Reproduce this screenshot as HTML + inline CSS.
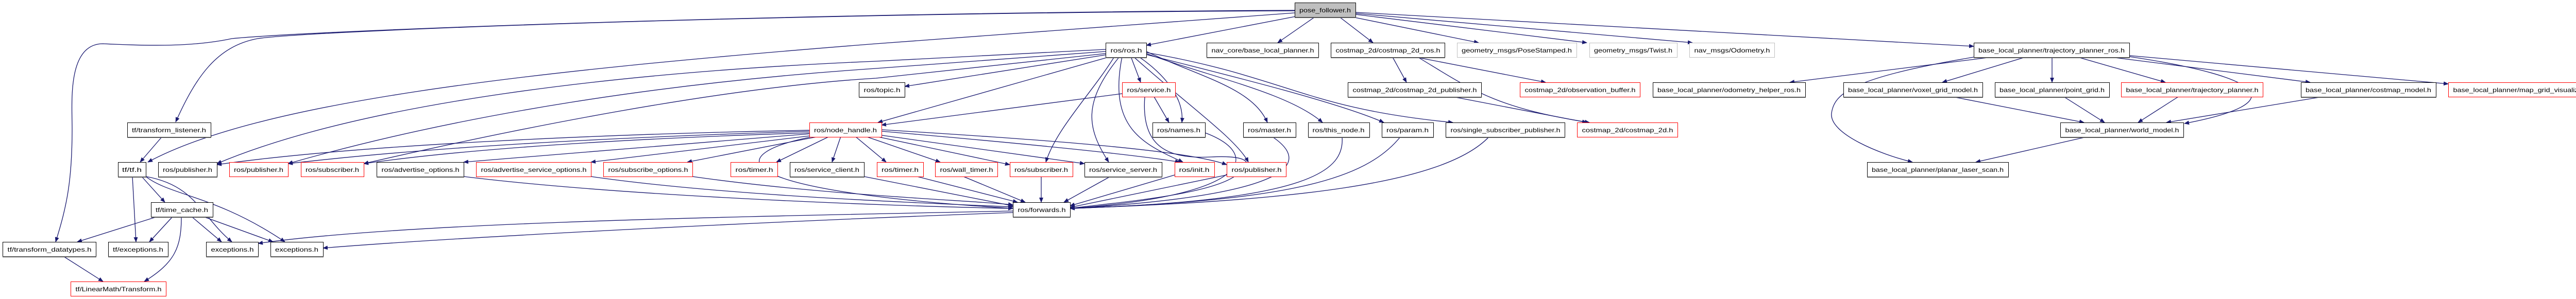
<!DOCTYPE html>
<html><head><meta charset="utf-8"><style>
html,body{margin:0;padding:0;background:#fff;}
svg{display:block;}
text{font-family:"Liberation Sans",sans-serif;font-size:12px;fill:#000;}
.e{fill:none;stroke:#191970;stroke-width:1.3;marker-end:url(#a);}
.n{fill:#fff;stroke:#000;stroke-width:1;}
.r{fill:#fff;stroke:#ff0000;stroke-width:1;}
.g{fill:#fff;stroke:#bfbfbf;stroke-width:1;}
.s{stroke:#555;stroke-width:2;}
</style></head><body>
<svg width="5043" height="581" viewBox="0 0 5043 581" xmlns="http://www.w3.org/2000/svg">
<defs><marker id="a" markerWidth="10" markerHeight="8" refX="9" refY="4" orient="auto" markerUnits="userSpaceOnUse"><path d="M0,0 L10,4 L0,8 z" fill="#191970"/></marker></defs>
<g>
<!-- pose edges -->
<path class="e" d="M2520,31 L2225,88"/>
<path class="e" d="M2552,33 L2480,83"/>
<path class="e" d="M2600,33 L2665,83"/>
<path class="e" d="M2625,33 L2870,83"/>
<path class="e" d="M2631,28 L3080,83"/>
<path class="e" d="M2631,26 L3285,83"/>
<path class="e" d="M2631,24 L3831,90"/>
<path class="e" d="M2513,25 L1700,85 C1000,140 500,200 287,315"/>
<path class="e" d="M2513,21 C1500,25 600,60 500,75 C420,90 380,150 341,237"/>
<path class="e" d="M2513,20 C1500,25 600,60 450,75 C380,90 300,90 200,85 C130,85 140,200 140,250 C140,350 130,400 108,470"/>
<!-- ros.h edges -->
<path class="e" d="M2146,96 L1700,119 C1200,140 700,200 421,318"/>
<path class="e" d="M2146,100 L1700,133 C1300,160 900,220 559,318"/>
<path class="e" d="M2146,104 L1700,152 C1400,170 1000,250 706,318"/>
<path class="e" d="M2150,106 L1756,168"/>
<path class="e" d="M2155,110 L1704,238"/>
<path class="e" d="M2195,110 L2214,160"/>
<path class="e" d="M2210,110 C2240,130 2300,180 2294,238"/>
<path class="e" d="M2225,100 C2330,150 2430,170 2460,238"/>
<path class="e" d="M2225,104 C2350,150 2500,180 2567,238"/>
<path class="e" d="M2225,106 C2400,150 2600,200 2686,238"/>
<path class="e" d="M2225,102 C2500,150 2530,210 2820,238"/>
<path class="e" d="M2163,110 C2120,180 2050,250 2030,315"/>
<path class="e" d="M2173,110 C2100,200 2110,250 2152,315"/>
<path class="e" d="M2178,110 C2150,250 2220,280 2296,315"/>
<path class="e" d="M2200,110 C2300,200 2400,270 2423,315"/>
<!-- service.h -->
<path class="e" d="M2178,182 L1711,243"/>
<path class="e" d="M2240,188 L2269,238"/>
<path class="e" d="M2222,188 C2215,280 2260,310 2350,305 C2450,300 2420,330 2400,340 C2350,380 2150,395 2077,405"/>
<!-- node_handle -->
<path class="e" d="M1571,253 C1200,260 700,280 421,320"/>
<path class="e" d="M1571,255 C1100,270 800,290 559,318"/>
<path class="e" d="M1571,258 C1200,270 900,290 706,318"/>
<path class="e" d="M1571,260 L900,315"/>
<path class="e" d="M1580,263 L1147,315"/>
<path class="e" d="M1590,265 L1334,315"/>
<path class="e" d="M1610,265 L1507,315"/>
<path class="e" d="M1632,265 L1615,315"/>
<path class="e" d="M1660,265 L1720,315"/>
<path class="e" d="M1680,265 L1825,315"/>
<path class="e" d="M1700,265 L1960,320"/>
<path class="e" d="M1705,262 L2105,318"/>
<path class="e" d="M1711,255 C2000,280 2200,300 2290,315"/>
<path class="e" d="M1711,252 C2000,270 2300,290 2381,320"/>
<path class="e" d="M1580,265 C1400,300 1400,370 1966,405"/>
<!-- row4 to forwards -->
<path class="e" d="M900,343 C1200,380 1700,400 1966,405"/>
<path class="e" d="M1147,343 C1400,380 1800,395 1966,402"/>
<path class="e" d="M1344,343 C1600,380 1900,390 1966,398"/>
<path class="e" d="M1677,343 L1966,400"/>
<path class="e" d="M1780,343 L1975,393"/>
<path class="e" d="M1870,343 L1990,393"/>
<path class="e" d="M2021,343 L2021,393"/>
<path class="e" d="M2155,343 L2065,393"/>
<path class="e" d="M2280,340 L2077,400"/>
<path class="e" d="M2381,340 L2077,403"/>
<path class="e" d="M1966,410 C1500,420 800,430 501,473"/>
<path class="e" d="M1966,413 C1500,430 900,460 627,482"/>
<path class="e" d="M2339,258 C2450,300 2430,380 2077,405"/>
<path class="e" d="M2470,266 C2550,320 2500,380 2077,405"/>
<path class="e" d="M2605,266 C2610,330 2550,390 2077,405"/>
<path class="e" d="M2718,266 C2650,350 2500,390 2077,405"/>
<path class="e" d="M2890,266 C2800,360 2500,390 2077,405"/>
<!-- tf -->
<path class="e" d="M315,265 L272,315"/>
<path class="e" d="M275,343 L320,393"/>
<path class="e" d="M257,343 L264,470"/>
<path class="e" d="M283,343 C380,360 390,420 450,470"/>
<path class="e" d="M283,343 C330,380 420,380 553,470"/>
<path class="e" d="M305,421 L150,470"/>
<path class="e" d="M335,421 L290,470"/>
<path class="e" d="M372,421 L430,470"/>
<path class="e" d="M395,421 L530,470"/>
<path class="e" d="M352,421 C352,480 340,510 280,547"/>
<path class="e" d="M123,498 L200,547"/>
<!-- costmap -->
<path class="e" d="M2703,111 L2730,160"/>
<path class="e" d="M2748,111 L3000,160"/>
<path class="e" d="M2752,111 C2850,170 2900,210 3085,238"/>
<path class="e" d="M2820,188 L3080,238"/>
<!-- trajectory planner ros -->
<path class="e" d="M3866,111 L3474,160"/>
<path class="e" d="M3931,111 L3770,160"/>
<path class="e" d="M3983,111 L3983,160"/>
<path class="e" d="M4033,111 L4203,160"/>
<path class="e" d="M4097,111 L4484,160"/>
<path class="e" d="M4133,108 L4752,163"/>
<path class="e" d="M4133,110 C4400,150 4450,200 4240,240"/>
<path class="e" d="M3831,111 C3600,150 3560,180 3555,220 C3550,260 3650,300 3712,315"/>
<path class="e" d="M3790,188 L4045,238"/>
<path class="e" d="M4006,188 L4085,238"/>
<path class="e" d="M4228,188 L4150,238"/>
<path class="e" d="M4508,188 L4205,238"/>
<path class="e" d="M4050,266 L3835,315"/>
</g>
<g>
<!-- row0 -->
<rect x="2513.5" y="5.5" width="118" height="28" fill="#bfbfbf" stroke="#000"/><line class="s" x1="2513" y1="34" x2="2632" y2="34"/><text x="2572" y="24" text-anchor="middle" textLength="100" lengthAdjust="spacingAndGlyphs">pose_follower.h</text>
<!-- row1 y83 -->
<rect class="n" x="2146.5" y="83.5" width="79" height="28"/><line class="s" x1="2146" y1="112" x2="2226" y2="112"/><text x="2186" y="102" text-anchor="middle" textLength="61" lengthAdjust="spacingAndGlyphs">ros/ros.h</text>
<rect class="n" x="2342.5" y="83.5" width="217" height="28"/><line class="s" x1="2342" y1="112" x2="2560" y2="112"/><text x="2451" y="102" text-anchor="middle" textLength="199" lengthAdjust="spacingAndGlyphs">nav_core/base_local_planner.h</text>
<rect class="n" x="2583.5" y="83.5" width="221" height="28"/><line class="s" x1="2583" y1="112" x2="2805" y2="112"/><text x="2694" y="102" text-anchor="middle" textLength="203" lengthAdjust="spacingAndGlyphs">costmap_2d/costmap_2d_ros.h</text>
<rect class="g" x="2828.5" y="83.5" width="232" height="28"/><text x="2944" y="102" text-anchor="middle" textLength="214" lengthAdjust="spacingAndGlyphs">geometry_msgs/PoseStamped.h</text>
<rect class="g" x="3085.5" y="83.5" width="170" height="28"/><text x="3170" y="102" text-anchor="middle" textLength="152" lengthAdjust="spacingAndGlyphs">geometry_msgs/Twist.h</text>
<rect class="g" x="3279.5" y="83.5" width="165" height="28"/><text x="3362" y="102" text-anchor="middle" textLength="147" lengthAdjust="spacingAndGlyphs">nav_msgs/Odometry.h</text>
<rect class="n" x="3831.5" y="83.5" width="302" height="28"/><line class="s" x1="3831" y1="112" x2="4134" y2="112"/><text x="3982" y="102" text-anchor="middle" textLength="284" lengthAdjust="spacingAndGlyphs">base_local_planner/trajectory_planner_ros.h</text>
<!-- row2 y160 -->
<rect class="n" x="1667.5" y="160.5" width="89" height="28"/><line class="s" x1="1667" y1="189" x2="1757" y2="189"/><text x="1712" y="179" text-anchor="middle" textLength="71" lengthAdjust="spacingAndGlyphs">ros/topic.h</text>
<rect class="r" x="2178.5" y="160.5" width="103" height="28"/><text x="2230" y="179" text-anchor="middle" textLength="85" lengthAdjust="spacingAndGlyphs">ros/service.h</text>
<rect class="n" x="2616.5" y="160.5" width="259" height="28"/><line class="s" x1="2616" y1="189" x2="2876" y2="189"/><text x="2746" y="179" text-anchor="middle" textLength="241" lengthAdjust="spacingAndGlyphs">costmap_2d/costmap_2d_publisher.h</text>
<rect class="r" x="2950.5" y="160.5" width="233" height="28"/><text x="3067" y="179" text-anchor="middle" textLength="215" lengthAdjust="spacingAndGlyphs">costmap_2d/observation_buffer.h</text>
<rect class="n" x="3208.5" y="160.5" width="296" height="28"/><line class="s" x1="3208" y1="189" x2="3505" y2="189"/><text x="3356" y="179" text-anchor="middle" textLength="278" lengthAdjust="spacingAndGlyphs">base_local_planner/odometry_helper_ros.h</text>
<rect class="n" x="3578.5" y="160.5" width="270" height="28"/><line class="s" x1="3578" y1="189" x2="3849" y2="189"/><text x="3713" y="179" text-anchor="middle" textLength="252" lengthAdjust="spacingAndGlyphs">base_local_planner/voxel_grid_model.h</text>
<rect class="n" x="3872.5" y="160.5" width="222" height="28"/><line class="s" x1="3872" y1="189" x2="4095" y2="189"/><text x="3983" y="179" text-anchor="middle" textLength="204" lengthAdjust="spacingAndGlyphs">base_local_planner/point_grid.h</text>
<rect class="r" x="4117.5" y="160.5" width="275" height="28"/><text x="4255" y="179" text-anchor="middle" textLength="257" lengthAdjust="spacingAndGlyphs">base_local_planner/trajectory_planner.h</text>
<rect class="n" x="4466.5" y="160.5" width="262" height="28"/><line class="s" x1="4466" y1="189" x2="4729" y2="189"/><text x="4597" y="179" text-anchor="middle" textLength="244" lengthAdjust="spacingAndGlyphs">base_local_planner/costmap_model.h</text>
<rect class="r" x="4752.5" y="160.5" width="285" height="28"/><text x="4895" y="179" text-anchor="middle" textLength="267" lengthAdjust="spacingAndGlyphs">base_local_planner/map_grid_visualizer.h</text>
<!-- row3 y238 -->
<rect class="n" x="247.5" y="238.5" width="162" height="28"/><line class="s" x1="247" y1="267" x2="410" y2="267"/><text x="328" y="257" text-anchor="middle" textLength="144" lengthAdjust="spacingAndGlyphs">tf/transform_listener.h</text>
<rect class="r" x="1571.5" y="238.5" width="140" height="28"/><text x="1641" y="257" text-anchor="middle" textLength="122" lengthAdjust="spacingAndGlyphs">ros/node_handle.h</text>
<rect class="n" x="2237.5" y="238.5" width="102" height="28"/><line class="s" x1="2237" y1="267" x2="2340" y2="267"/><text x="2288" y="257" text-anchor="middle" textLength="84" lengthAdjust="spacingAndGlyphs">ros/names.h</text>
<rect class="n" x="2413.5" y="238.5" width="102" height="28"/><line class="s" x1="2413" y1="267" x2="2516" y2="267"/><text x="2464" y="257" text-anchor="middle" textLength="84" lengthAdjust="spacingAndGlyphs">ros/master.h</text>
<rect class="n" x="2539.5" y="238.5" width="119" height="28"/><line class="s" x1="2539" y1="267" x2="2659" y2="267"/><text x="2598" y="257" text-anchor="middle" textLength="101" lengthAdjust="spacingAndGlyphs">ros/this_node.h</text>
<rect class="n" x="2682.5" y="238.5" width="100" height="28"/><line class="s" x1="2682" y1="267" x2="2783" y2="267"/><text x="2732" y="257" text-anchor="middle" textLength="82" lengthAdjust="spacingAndGlyphs">ros/param.h</text>
<rect class="n" x="2806.5" y="238.5" width="231" height="28"/><line class="s" x1="2806" y1="267" x2="3038" y2="267"/><text x="2922" y="257" text-anchor="middle" textLength="213" lengthAdjust="spacingAndGlyphs">ros/single_subscriber_publisher.h</text>
<rect class="r" x="3061.5" y="238.5" width="195" height="28"/><text x="3159" y="257" text-anchor="middle" textLength="177" lengthAdjust="spacingAndGlyphs">costmap_2d/costmap_2d.h</text>
<rect class="n" x="3999.5" y="238.5" width="239" height="28"/><line class="s" x1="3999" y1="267" x2="4239" y2="267"/><text x="4119" y="257" text-anchor="middle" textLength="221" lengthAdjust="spacingAndGlyphs">base_local_planner/world_model.h</text>
<!-- row4 y315 -->
<rect class="n" x="229.5" y="315.5" width="54" height="28"/><line class="s" x1="229" y1="344" x2="284" y2="344"/><text x="256" y="334" text-anchor="middle" textLength="38" lengthAdjust="spacingAndGlyphs">tf/tf.h</text>
<rect class="n" x="307.5" y="315.5" width="114" height="28"/><line class="s" x1="307" y1="344" x2="422" y2="344"/><text x="364" y="334" text-anchor="middle" textLength="96" lengthAdjust="spacingAndGlyphs">ros/publisher.h</text>
<rect class="r" x="445.5" y="315.5" width="114" height="28"/><text x="502" y="334" text-anchor="middle" textLength="96" lengthAdjust="spacingAndGlyphs">ros/publisher.h</text>
<rect class="r" x="584.5" y="315.5" width="122" height="28"/><text x="645" y="334" text-anchor="middle" textLength="104" lengthAdjust="spacingAndGlyphs">ros/subscriber.h</text>
<rect class="n" x="731.5" y="315.5" width="169" height="28"/><line class="s" x1="731" y1="344" x2="901" y2="344"/><text x="816" y="334" text-anchor="middle" textLength="151" lengthAdjust="spacingAndGlyphs">ros/advertise_options.h</text>
<rect class="r" x="924.5" y="315.5" width="223" height="28"/><text x="1036" y="334" text-anchor="middle" textLength="205" lengthAdjust="spacingAndGlyphs">ros/advertise_service_options.h</text>
<rect class="r" x="1171.5" y="315.5" width="173" height="28"/><text x="1258" y="334" text-anchor="middle" textLength="155" lengthAdjust="spacingAndGlyphs">ros/subscribe_options.h</text>
<rect class="r" x="1418.5" y="315.5" width="91" height="28"/><text x="1464" y="334" text-anchor="middle" textLength="73" lengthAdjust="spacingAndGlyphs">ros/timer.h</text>
<rect class="n" x="1533.5" y="315.5" width="144" height="28"/><line class="s" x1="1533" y1="344" x2="1678" y2="344"/><text x="1605" y="334" text-anchor="middle" textLength="126" lengthAdjust="spacingAndGlyphs">ros/service_client.h</text>
<rect class="r" x="1702.5" y="315.5" width="90" height="28"/><text x="1747" y="334" text-anchor="middle" textLength="72" lengthAdjust="spacingAndGlyphs">ros/timer.h</text>
<rect class="r" x="1815.5" y="315.5" width="121" height="28"/><text x="1876" y="334" text-anchor="middle" textLength="103" lengthAdjust="spacingAndGlyphs">ros/wall_timer.h</text>
<rect class="r" x="1960.5" y="315.5" width="122" height="28"/><text x="2021" y="334" text-anchor="middle" textLength="104" lengthAdjust="spacingAndGlyphs">ros/subscriber.h</text>
<rect class="n" x="2105.5" y="315.5" width="150" height="28"/><line class="s" x1="2105" y1="344" x2="2256" y2="344"/><text x="2180" y="334" text-anchor="middle" textLength="132" lengthAdjust="spacingAndGlyphs">ros/service_server.h</text>
<rect class="r" x="2280.5" y="315.5" width="77" height="28"/><text x="2318" y="334" text-anchor="middle" textLength="59" lengthAdjust="spacingAndGlyphs">ros/init.h</text>
<rect class="r" x="2381.5" y="315.5" width="115" height="28"/><text x="2439" y="334" text-anchor="middle" textLength="97" lengthAdjust="spacingAndGlyphs">ros/publisher.h</text>
<rect class="n" x="3624.5" y="315.5" width="274" height="28"/><line class="s" x1="3624" y1="344" x2="3899" y2="344"/><text x="3761" y="334" text-anchor="middle" textLength="256" lengthAdjust="spacingAndGlyphs">base_local_planner/planar_laser_scan.h</text>
<!-- row5 y393 -->
<rect class="n" x="293.5" y="393.5" width="120" height="28"/><line class="s" x1="293" y1="422" x2="414" y2="422"/><text x="353" y="412" text-anchor="middle" textLength="102" lengthAdjust="spacingAndGlyphs">tf/time_cache.h</text>
<rect class="n" x="1966.5" y="393.5" width="111" height="28"/><line class="s" x1="1966" y1="422" x2="2078" y2="422"/><text x="2022" y="412" text-anchor="middle" textLength="93" lengthAdjust="spacingAndGlyphs">ros/forwards.h</text>
<!-- row6 y470 -->
<rect class="n" x="5.5" y="470.5" width="181" height="28"/><line class="s" x1="5" y1="499" x2="187" y2="499"/><text x="96" y="489" text-anchor="middle" textLength="163" lengthAdjust="spacingAndGlyphs">tf/transform_datatypes.h</text>
<rect class="n" x="210.5" y="470.5" width="116" height="28"/><line class="s" x1="210" y1="499" x2="327" y2="499"/><text x="268" y="489" text-anchor="middle" textLength="98" lengthAdjust="spacingAndGlyphs">tf/exceptions.h</text>
<rect class="n" x="400.5" y="470.5" width="101" height="28"/><line class="s" x1="400" y1="499" x2="502" y2="499"/><text x="451" y="489" text-anchor="middle" textLength="83" lengthAdjust="spacingAndGlyphs">exceptions.h</text>
<rect class="n" x="525.5" y="470.5" width="102" height="28"/><line class="s" x1="525" y1="499" x2="628" y2="499"/><text x="576" y="489" text-anchor="middle" textLength="84" lengthAdjust="spacingAndGlyphs">exceptions.h</text>
<!-- row7 y547 -->
<rect class="r" x="137.5" y="547.5" width="185" height="28"/><text x="230" y="566" text-anchor="middle" textLength="167" lengthAdjust="spacingAndGlyphs">tf/LinearMath/Transform.h</text>
</g>
</svg>
</body></html>
